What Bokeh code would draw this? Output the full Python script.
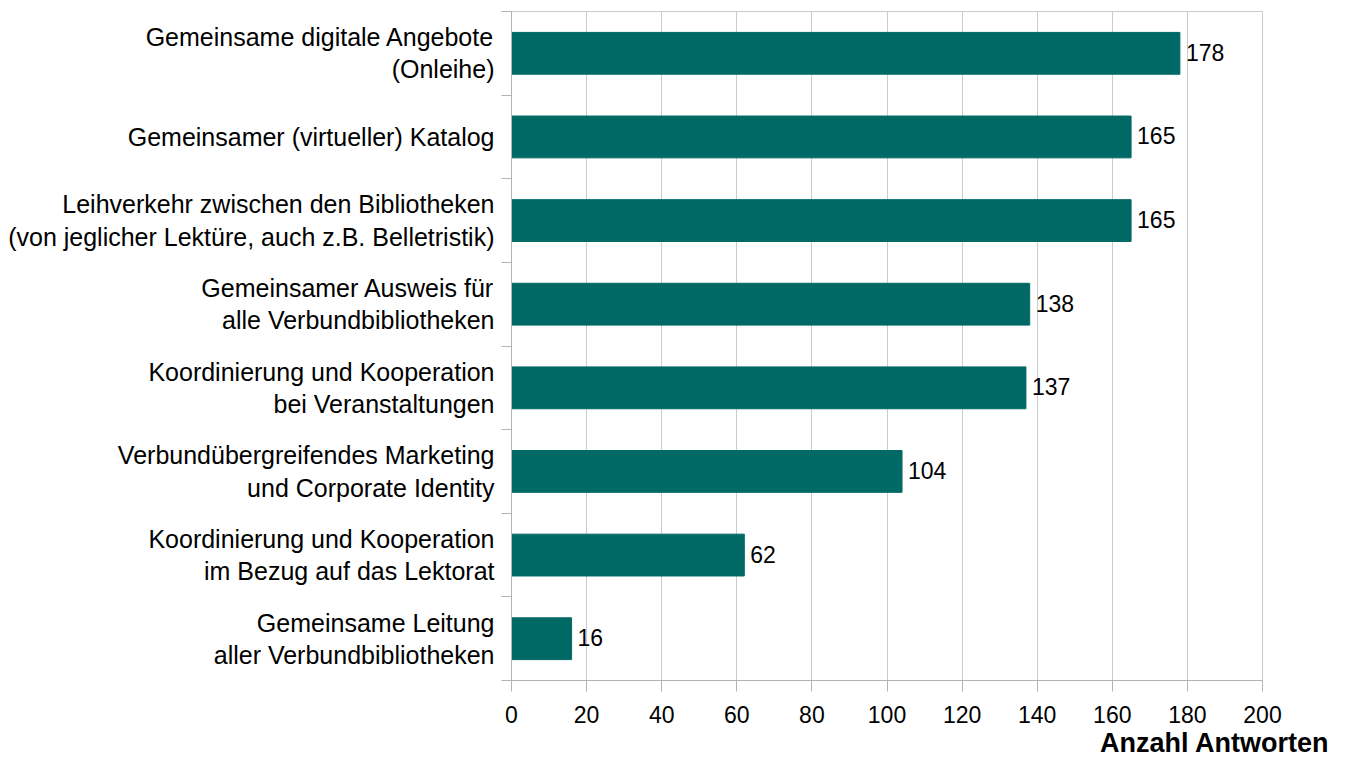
from bokeh.plotting import figure
from bokeh.models import (ColumnDataSource, LabelSet, Title, FixedTicker, LinearAxis,
                          CategoricalAxis)
from bokeh.core.properties import value
from bokeh.embed import file_html
from bokeh.resources import INLINE

categories = [
    "Gemeinsame digitale Angebote\n(Onleihe)",
    "Gemeinsamer (virtueller) Katalog",
    "Leihverkehr zwischen den Bibliotheken\n(von jeglicher Lektüre, auch z.B. Belletristik)",
    "Gemeinsamer Ausweis für\nalle Verbundbibliotheken",
    "Koordinierung und Kooperation\nbei Veranstaltungen",
    "Verbundübergreifendes Marketing\nund Corporate Identity",
    "Koordinierung und Kooperation\nim Bezug auf das Lektorat",
    "Gemeinsame Leitung\naller Verbundbibliotheken",
]
values = [178, 165, 165, 138, 137, 104, 62, 16]
x_ticks = [0, 20, 40, 60, 80, 100, 120, 140, 160, 180, 200]
x_title = "Anzahl Antworten"

FONT = "Liberation Sans"
BAR = "#006966"
AXIS = "#b3b3b3"

src = ColumnDataSource(dict(cat=categories, val=values, lab=[str(v) for v in values]))

p = figure(
    y_range=list(reversed(categories)), x_range=(0, 200),
    width=1338, height=758, output_backend="svg", toolbar_location=None,
    min_border_left=511, min_border_right=76, min_border_top=11, min_border_bottom=78,
    y_axis_location=None,
)
p.hbar(y="cat", right="val", left=0, height=0.5, source=src, color=BAR)
p.add_layout(LabelSet(x="val", y="cat", text="lab", source=src, x_offset=6, y_offset=1,
                      text_baseline="middle", text_font=value(FONT), text_font_size="23px",
                      text_color="black"))

# tick marks on the category boundaries (synthetic coordinates of the factor range)
n = len(categories)
band_axis = LinearAxis(ticker=FixedTicker(ticks=list(range(n + 1))),
                       major_label_overrides={i: "" for i in range(n + 1)},
                       major_label_standoff=0, major_label_text_font_size="1px",
                       axis_line_color=AXIS, major_tick_line_color=AXIS,
                       major_tick_out=10, major_tick_in=0, minor_tick_line_color=None)
p.add_layout(band_axis, "left")

cat_axis = CategoricalAxis(axis_line_color=None, major_tick_line_color=None,
                           major_label_text_font=FONT, major_label_text_font_size="25px",
                           major_label_text_color="black", major_label_text_line_height=1.15,
                           major_label_standoff=1)
p.add_layout(cat_axis, "left")

p.xaxis.ticker = FixedTicker(ticks=x_ticks)
p.xaxis.major_label_text_font = FONT
p.xaxis.major_label_text_font_size = "23px"
p.xaxis.major_label_text_color = "black"
p.xaxis.axis_line_color = AXIS
p.xaxis.major_tick_line_color = AXIS
p.xaxis.major_tick_out = 11
p.xaxis.major_tick_in = 0
p.xaxis.minor_tick_line_color = None
p.xaxis.major_label_standoff = 14

p.xgrid.grid_line_color = "#cccccc"
p.ygrid.grid_line_color = None
p.outline_line_color = "#cccccc"

p.add_layout(Title(text=x_title, align="right", text_font=FONT, text_font_size="27px",
                   text_font_style="bold", text_color="black", offset=-67, standoff=0), "below")

open("out.html", "w").write(file_html(p, INLINE))
